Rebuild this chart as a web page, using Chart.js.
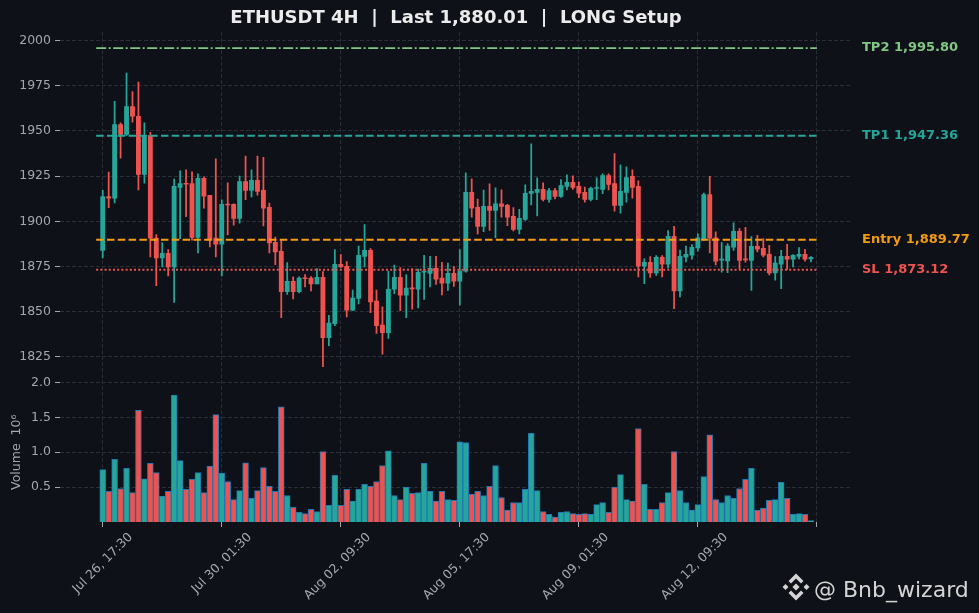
<!DOCTYPE html>
<html>
<head>
<meta charset="utf-8">
<title>ETHUSDT 4H</title>
<script src="https://cdn.jsdelivr.net/npm/chart.js@4.4.1/dist/chart.umd.min.js"></script>
<style>
  html, body { margin: 0; padding: 0; background: #0e1117; }
  #wrap { width: 979px; height: 613px; }
</style>
</head>
<body>
<div id="wrap"><canvas id="chart" width="979" height="613"></canvas></div>
<script>
// 4H candles (oldest first)
const opens = [
  1883.9, 1913.7, 1912.8, 1953.5, 1948.0, 1963.4, 1958.1, 1925.9, 1947.4, 1890.7,
  1879.7, 1882.3, 1874.7, 1918.7, 1920.9, 1920.9, 1891.1, 1923.7, 1914.3, 1890.7,
  1887.3, 1909.3, 1909.3, 1901.6, 1922.0, 1917.1, 1922.6, 1917.1, 1907.7, 1888.4,
  1883.4, 1861.0, 1866.8, 1861.0, 1868.5, 1868.5, 1865.4, 1869.0, 1835.6, 1843.3,
  1876.2, 1875.1, 1850.8, 1857.3, 1880.6, 1883.9, 1855.8, 1842.6, 1838.3, 1862.4,
  1869.0, 1859.1, 1862.9, 1862.4, 1871.8, 1871.2, 1874.0, 1868.5, 1865.7, 1871.2,
  1866.8, 1872.4, 1916.0, 1907.7, 1897.2, 1908.2, 1906.0, 1909.7, 1908.8, 1902.7,
  1895.5, 1901.0, 1915.4, 1916.0, 1917.6, 1912.1, 1917.0, 1913.7, 1919.3, 1921.5,
  1919.3, 1916.0, 1912.1, 1918.1, 1917.6, 1925.3, 1920.9, 1908.8, 1916.0, 1924.8,
  1919.3, 1875.1, 1877.3, 1871.4, 1880.1, 1876.2, 1891.7, 1861.5, 1880.1, 1881.2,
  1885.2, 1890.0, 1914.8, 1890.9, 1878.5, 1878.0, 1885.6, 1894.4, 1878.8, 1878.4,
  1886.1, 1885.0, 1881.7, 1871.4, 1876.2, 1880.6, 1879.0, 1880.6, 1881.7, 1879.2
];
const highs = [
  1917.1, 1927.2, 1966.4, 1954.4, 1982.0, 1971.7, 1977.0, 1954.4, 1949.2, 1892.6,
  1888.2, 1884.3, 1923.3, 1927.9, 1928.5, 1927.4, 1926.3, 1924.6, 1914.3, 1934.5,
  1911.9, 1921.3, 1909.7, 1925.0, 1936.0, 1928.5, 1936.0, 1935.4, 1910.1, 1891.3,
  1889.3, 1877.1, 1869.2, 1869.2, 1870.5, 1869.4, 1873.8, 1872.2, 1847.9, 1884.3,
  1881.5, 1877.7, 1861.9, 1886.3, 1898.1, 1884.9, 1861.9, 1852.7, 1872.5, 1875.7,
  1874.4, 1870.5, 1873.8, 1873.5, 1881.2, 1880.6, 1880.6, 1877.3, 1876.8, 1874.9,
  1884.3, 1926.8, 1923.5, 1912.3, 1917.2, 1920.7, 1918.5, 1917.4, 1909.3, 1907.5,
  1906.6, 1920.2, 1942.8, 1924.0, 1921.3, 1918.2, 1918.2, 1923.1, 1925.7, 1925.1,
  1921.8, 1918.9, 1918.9, 1924.0, 1926.3, 1926.3, 1937.5, 1931.2, 1930.1, 1928.5,
  1922.4, 1879.2, 1880.4, 1881.0, 1881.0, 1894.8, 1897.2, 1884.1, 1886.3, 1887.1,
  1893.0, 1915.6, 1924.8, 1894.2, 1888.2, 1887.6, 1899.2, 1895.9, 1896.6, 1891.5,
  1892.2, 1890.4, 1886.7, 1880.4, 1883.9, 1887.3, 1881.6, 1885.4, 1884.5, 1880.5
];
const lows = [
  1879.7, 1907.5, 1910.1, 1934.9, 1947.4, 1954.8, 1917.4, 1921.1, 1880.3, 1864.4,
  1874.7, 1869.8, 1855.1, 1890.4, 1902.5, 1889.5, 1882.5, 1907.3, 1885.8, 1880.3,
  1869.8, 1892.4, 1897.9, 1899.0, 1911.9, 1913.4, 1914.5, 1897.4, 1882.5, 1876.0,
  1846.6, 1859.5, 1857.1, 1860.4, 1863.7, 1861.5, 1865.4, 1819.6, 1831.1, 1842.2,
  1874.4, 1847.1, 1850.5, 1854.3, 1874.7, 1849.4, 1838.0, 1826.4, 1835.2, 1860.0,
  1850.5, 1846.6, 1851.4, 1852.1, 1856.7, 1863.7, 1865.0, 1859.3, 1861.7, 1864.0,
  1853.6, 1871.8, 1902.3, 1893.0, 1894.2, 1895.0, 1890.9, 1902.3, 1897.6, 1894.6,
  1893.0, 1900.5, 1909.0, 1902.9, 1911.2, 1910.6, 1912.3, 1913.2, 1917.4, 1917.6,
  1913.0, 1910.6, 1911.2, 1911.9, 1915.2, 1917.4, 1905.6, 1904.5, 1910.6, 1912.8,
  1869.2, 1865.5, 1868.9, 1870.0, 1869.2, 1874.0, 1851.6, 1858.2, 1877.5, 1879.0,
  1883.4, 1889.3, 1882.5, 1875.8, 1871.8, 1871.6, 1883.9, 1873.8, 1877.3, 1861.7,
  1883.0, 1880.3, 1870.3, 1867.4, 1862.7, 1873.3, 1874.7, 1879.2, 1877.9, 1877.5
];
const closes = [
  1913.7, 1912.8, 1953.5, 1948.0, 1963.4, 1958.1, 1925.9, 1947.4, 1890.7, 1879.7,
  1882.3, 1874.7, 1919.3, 1920.9, 1920.5, 1891.1, 1923.7, 1913.9, 1889.5, 1887.3,
  1909.3, 1909.0, 1901.6, 1922.0, 1917.1, 1922.6, 1916.5, 1907.3, 1888.0, 1883.0,
  1861.0, 1866.8, 1861.0, 1868.5, 1868.2, 1865.4, 1869.0, 1835.6, 1843.7, 1876.2,
  1874.7, 1850.8, 1857.5, 1881.2, 1883.9, 1855.4, 1842.2, 1838.3, 1862.4, 1869.0,
  1859.1, 1863.0, 1862.6, 1871.8, 1872.0, 1874.0, 1867.9, 1865.7, 1871.2, 1866.8,
  1872.4, 1916.0, 1907.3, 1897.2, 1908.2, 1906.0, 1909.7, 1908.2, 1902.2, 1895.5,
  1901.6, 1915.4, 1916.5, 1917.6, 1912.1, 1917.0, 1913.7, 1919.8, 1921.5, 1918.7,
  1915.6, 1912.1, 1918.2, 1918.3, 1925.3, 1920.4, 1908.8, 1916.5, 1924.2, 1918.7,
  1875.1, 1877.3, 1871.4, 1880.1, 1876.2, 1891.7, 1861.5, 1880.6, 1881.7, 1885.6,
  1890.9, 1914.8, 1890.6, 1877.9, 1878.7, 1886.3, 1894.4, 1878.4, 1878.6, 1886.1,
  1884.5, 1881.2, 1871.4, 1876.8, 1880.6, 1879.0, 1881.2, 1881.7, 1879.0, 1880.01
];
// volume in millions
const volumes = [
  0.75, 0.44, 0.90, 0.48, 0.77, 0.42, 1.60, 0.62, 0.84, 0.71,
  0.37, 0.44, 1.82, 0.88, 0.47, 0.61, 0.71, 0.42, 0.80, 1.54,
  0.70, 0.58, 0.32, 0.45, 0.85, 0.34, 0.45, 0.78, 0.51, 0.44,
  1.65, 0.38, 0.21, 0.14, 0.12, 0.18, 0.15, 1.01, 0.24, 0.67,
  0.24, 0.47, 0.30, 0.47, 0.54, 0.51, 0.58, 0.81, 1.02, 0.38,
  0.32, 0.50, 0.41, 0.42, 0.84, 0.44, 0.30, 0.44, 0.32, 0.31,
  1.15, 1.14, 0.40, 0.44, 0.38, 0.51, 0.81, 0.35, 0.17, 0.28,
  0.28, 0.47, 1.27, 0.45, 0.15, 0.11, 0.07, 0.14, 0.15, 0.12,
  0.11, 0.12, 0.11, 0.25, 0.28, 0.14, 0.50, 0.68, 0.32, 0.30,
  1.34, 0.54, 0.18, 0.18, 0.28, 0.42, 1.01, 0.45, 0.28, 0.17,
  0.25, 0.65, 1.25, 0.32, 0.28, 0.38, 0.34, 0.48, 0.61, 0.77,
  0.17, 0.20, 0.31, 0.32, 0.57, 0.34, 0.11, 0.12, 0.11, 0.02
];

const levelNames = ["TP2", "TP1", "Entry", "SL"];
const levelValues = [1995.80, 1947.36, 1889.77, 1873.12];
const levelColors = ["#81c784", "#26a69a", "#f39c12", "#ef5350"];
const levelDash = [[10, 2.5, 2, 2.5], [7.5, 3.3], [7.5, 3.3], [2, 2.2]];

const xTickPos = [0, 20, 40, 60, 80, 100, 120];
const xTickLabels = ["Jul 26, 17:30", "Jul 30, 01:30", "Aug 02, 09:30", "Aug 05, 17:30", "Aug 09, 01:30", "Aug 12, 09:30", ""];
const priceTicks = [1825, 1850, 1875, 1900, 1925, 1950, 1975, 2000];
const volTicks = [0.5, 1.0, 1.5, 2.0];

const titleText = "ETHUSDT 4H  |  Last 1,880.01  |  LONG Setup";
const GREEN = "#26a69a", RED = "#ef5350";
const GRID = "#2a2e36", TICK = "#a4a7ac";
const FONT = "DejaVu Sans";

const n = closes.length;
const idx = closes.map((_, i) => i);
const colors = idx.map(i => closes[i] >= opens[i] ? GREEN : RED);

function money(v) {
  return v.toFixed(2).replace(/\B(?=(\d{3})+(?!\d))/g, ",");
}

const levelSets = levelNames.map((name, k) => ({
  type: "line",
  label: name,
  yAxisID: "y",
  data: [{ x: -1.1, y: levelValues[k] }, { x: n, y: levelValues[k] }],
  borderColor: levelColors[k],
  borderWidth: k === 0 ? 1.8 : 2,
  borderDash: levelDash[k],
  pointRadius: 0,
  order: 0
}));

// right side labels + watermark
const extras = {
  id: "extras",
  afterDraw(chart) {
    const { ctx, chartArea, scales } = chart;
    ctx.save();
    ctx.font = "bold 13px '" + FONT + "'";
    ctx.textBaseline = "middle";
    ctx.textAlign = "left";
    levelNames.forEach((name, k) => {
      ctx.fillStyle = levelColors[k];
      ctx.fillText(name + " " + money(levelValues[k]), chartArea.right + 10, scales.y.getPixelForValue(levelValues[k]));
    });

    // binance-ish logo + handle
    const cx = 796, cy = 587;
    ctx.fillStyle = "#d4d4d4";
    ctx.beginPath();
    const dia = (x, y, r) => {
      ctx.moveTo(x, y - r); ctx.lineTo(x + r, y); ctx.lineTo(x, y + r); ctx.lineTo(x - r, y); ctx.closePath();
    };
    dia(cx, cy, 3.6);
    dia(cx - 10.5, cy, 3);
    dia(cx + 10.5, cy, 3);
    [-1, 1].forEach(d => {
      ctx.moveTo(cx, cy + d * 13.5);
      ctx.lineTo(cx + 7.5, cy + d * 6);
      ctx.lineTo(cx + 5, cy + d * 3.5);
      ctx.lineTo(cx, cy + d * 8.5);
      ctx.lineTo(cx - 5, cy + d * 3.5);
      ctx.lineTo(cx - 7.5, cy + d * 6);
      ctx.closePath();
    });
    ctx.fill();
    ctx.font = "22px '" + FONT + "'";
    ctx.textBaseline = "alphabetic";
    ctx.fillText("@ Bnb_wizard", 814, 597);
    ctx.restore();
  }
};

new Chart(document.getElementById("chart"), {
  type: "bar",
  data: {
    datasets: [
      ...levelSets,
      {
        label: "body",
        yAxisID: "y",
        data: idx.map(i => ({ x: i, y: [Math.min(opens[i], closes[i]), Math.max(opens[i], closes[i])] })),
        backgroundColor: colors,
        barThickness: 4.2,
        minBarLength: 1,
        grouped: false,
        order: 1
      },
      {
        label: "wick",
        yAxisID: "y",
        data: idx.map(i => ({ x: i, y: [lows[i], highs[i]] })),
        backgroundColor: colors,
        barThickness: 1.1,
        grouped: false,
        order: 2
      },
      {
        label: "volume",
        yAxisID: "yv",
        data: idx.map(i => ({ x: i, y: volumes[i] })),
        backgroundColor: colors,
        borderColor: "#1f77b4",
        borderWidth: 1,
        barThickness: 5.9,
        grouped: false,
        order: 3
      }
    ]
  },
  options: {
    responsive: false,
    animation: false,
    layout: { padding: { left: 0, right: 127, top: 0, bottom: 0 } },
    plugins: {
      legend: { display: false },
      tooltip: { enabled: false },
      title: {
        display: true,
        text: titleText,
        fullSize: false,
        color: "#ececec",
        font: { family: FONT, size: 18, weight: "bold" },
        padding: { top: 8, bottom: 2.6 }
      }
    },
    scales: {
      x: {
        type: "linear",
        min: -7.18,
        max: 125.9,
        offset: false,
        afterBuildTicks: s => { s.ticks = xTickPos.map(v => ({ value: v })); },
        afterFit: s => { s.height = 91; },
        grid: { color: GRID, offset: false, tickLength: 5, tickColor: TICK, tickBorderDash: [] },
        border: { display: false, dash: [4, 2] },
        ticks: {
          color: TICK,
          font: { family: FONT, size: 12.5 },
          autoSkip: false,
          maxRotation: 45,
          minRotation: 45,
          labelOffset: 28,
          padding: 3,
          callback: v => xTickLabels[xTickPos.indexOf(v)] || ""
        }
      },
      y: {
        type: "linear",
        position: "left",
        stack: "panes",
        stackWeight: 351,
        weight: 1,
        min: 1810.8,
        max: 2004.6,
        afterBuildTicks: s => { s.ticks = priceTicks.map(v => ({ value: v })); },
        afterFit: s => { s.width = 60; },
        grid: { color: GRID, tickLength: 5, tickColor: TICK, tickBorderDash: [] },
        border: { display: false, dash: [4, 2] },
        ticks: { color: TICK, font: { family: FONT, size: 12.5 }, padding: 4, callback: v => String(v) }
      },
      yv: {
        type: "linear",
        position: "left",
        stack: "panes",
        stackWeight: 139.8,
        weight: 0,
        min: 0,
        max: 2.0,
        afterBuildTicks: s => { s.ticks = volTicks.map(v => ({ value: v })); },
        afterFit: s => { s.width = 60; },
        grid: { color: GRID, tickLength: 5, tickColor: TICK, tickBorderDash: [] },
        border: { display: false, dash: [4, 2] },
        ticks: { color: TICK, font: { family: FONT, size: 12.5 }, padding: 4, callback: v => v.toFixed(1) },
        title: {
          display: true,
          text: "Volume  10\u2076",
          color: TICK,
          font: { family: FONT, size: 12.5 },
          padding: { top: 9, bottom: 0 }
        }
      }
    }
  },
  plugins: [extras]
});
</script>
</body>
</html>
